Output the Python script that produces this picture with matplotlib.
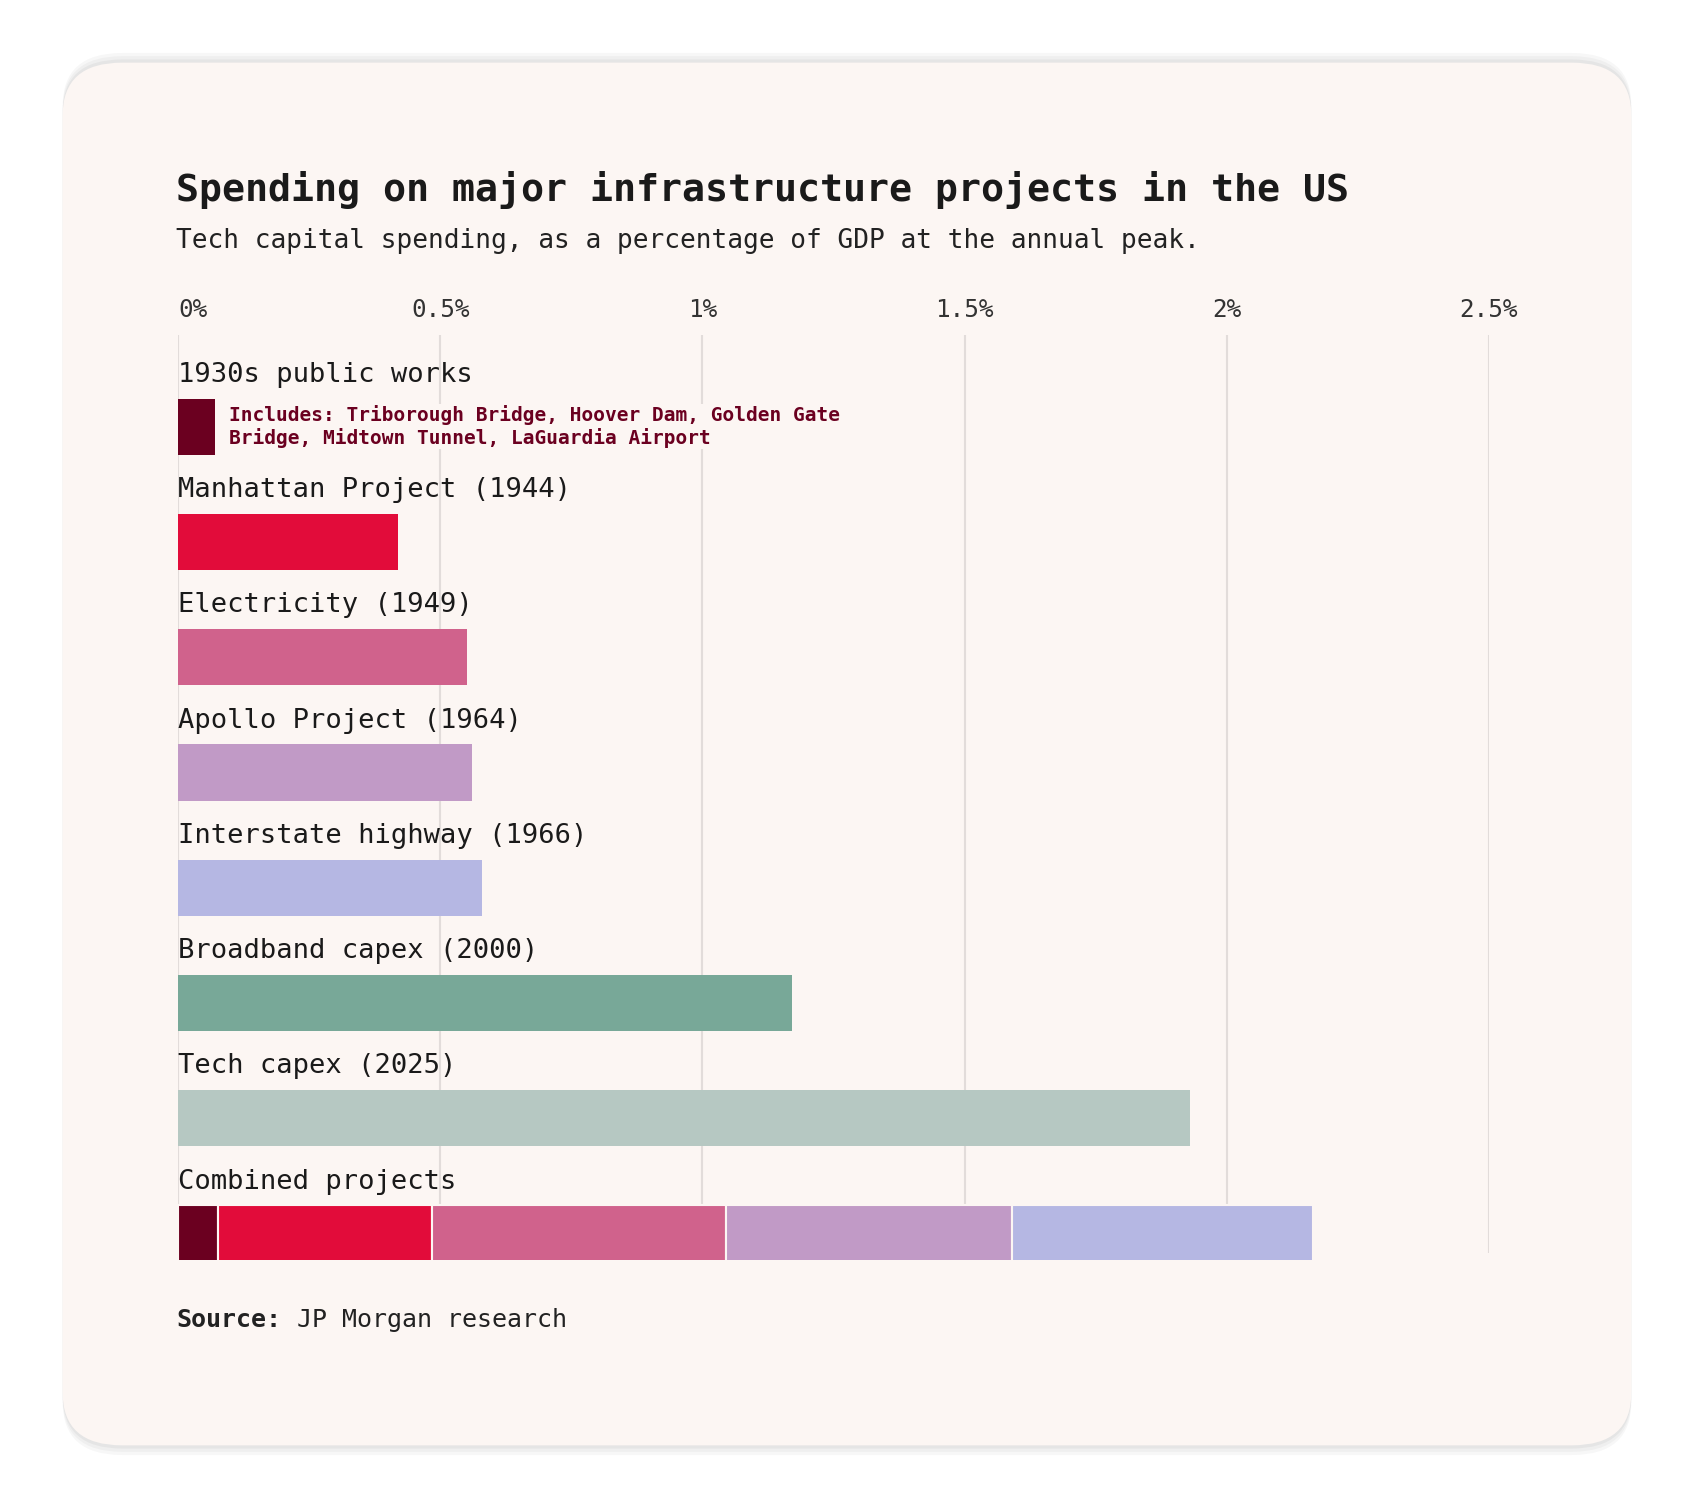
import matplotlib
matplotlib.use('Agg')
import matplotlib.pyplot as plt
from matplotlib.patches import FancyBboxPatch

labels = ['1930s public works', 'Manhattan Project (1944)', 'Electricity (1949)',
          'Apollo Project (1964)', 'Interstate highway (1966)', 'Broadband capex (2000)',
          'Tech capex (2025)', 'Combined projects']
values = [0.07, 0.42, 0.55, 0.56, 0.58, 1.17, 1.93]
combined = [0.075, 0.41, 0.56, 0.545, 0.575]
colors = ['#6b0020', '#e20c3a', '#d0628c', '#c19ac6', '#b5b7e3', '#78a898', '#b6c8c2']
ticks = [0, 0.5, 1, 1.5, 2, 2.5]
tick_labels = ['0%', '0.5%', '1%', '1.5%', '2%', '2.5%']
note = 'Includes: Triborough Bridge, Hoover Dam, Golden Gate\nBridge, Midtown Tunnel, LaGuardia Airport'

plt.rcParams['font.family'] = ['DejaVu Sans Mono']
W, H = 1568, 1396
fig = plt.figure(figsize=(16.94, 15.08), dpi=100)
fig.patch.set_facecolor('white')

# card with soft shadow
for i, a in enumerate([0.03, 0.03, 0.04]):
    off = (3 - i) * 6
    fig.patches.append(FancyBboxPatch((58 / W, 1 - (1338 + off * 0.5) / H), 1452 / W, (1280 + off) / H,
                                      boxstyle='round,pad=0,rounding_size=0.035', transform=fig.transFigure,
                                      facecolor='black', edgecolor='none', alpha=a, zorder=0))
fig.patches.append(FancyBboxPatch((58 / W, 1 - 1338 / H), 1452 / W, 1280 / H,
                                  boxstyle='round,pad=0,rounding_size=0.035', transform=fig.transFigure,
                                  facecolor='#fcf6f3', edgecolor='none', zorder=1))

fig.text(163 / W, 1 - 176 / H, 'Spending on major infrastructure projects in the US',
         fontsize=27.5, fontweight='bold', color='#1a1a1a', va='center', zorder=3)
fig.text(163 / W, 1 - 223 / H, 'Tech capital spending, as a percentage of GDP at the annual peak.',
         fontsize=18.8, color='#222222', va='center', zorder=3)
fig.text(163 / W, 1 - 1222 / H, 'Source:', fontsize=18, fontweight='bold', color='#222222', va='center', zorder=3)
fig.text(275 / W, 1 - 1222 / H, 'JP Morgan research', fontsize=18, color='#222222', va='center', zorder=3)

ax = fig.add_axes([165 / W, 1 - 1166 / H, (1378 - 165) / W, (1166 - 310) / H])
ax.set_zorder(5)
ax.set_facecolor('none')
ax.set_xlim(0, 2.5)
ax.set_ylim(1166, 310)
ax.axis('off')
ax.vlines(ticks, 310, 1160, color='#e2dcda', lw=1.5, zorder=0)
for t, tl in zip(ticks, tick_labels):
    ax.text(t, 287, tl, ha='left' if t == 0 else 'center', va='center', fontsize=17.5,
            color='#333333', clip_on=False)

step = 106.7
for i, lab in enumerate(labels):
    yc = 395 + step * i
    ax.text(0, yc - 48, lab, fontsize=19.5, color='#1a1a1a', va='center', ha='left')
    if i < len(values):
        ax.barh(yc, values[i], height=52, color=colors[i], zorder=2)
    else:
        left = 0
        for v, c in zip(combined, colors):
            ax.barh(yc, v, left=left, height=52, color=c, edgecolor='#fcf6f3', lw=1.5, zorder=2)
            left += v

ax.text(0.097, 395, note, fontsize=14, fontweight='bold', color='#6b0020', va='center',
        linespacing=1.15, bbox=dict(facecolor='#fcf6f3', edgecolor='none', pad=1))

fig.savefig('out.png', dpi=100, facecolor='white')
